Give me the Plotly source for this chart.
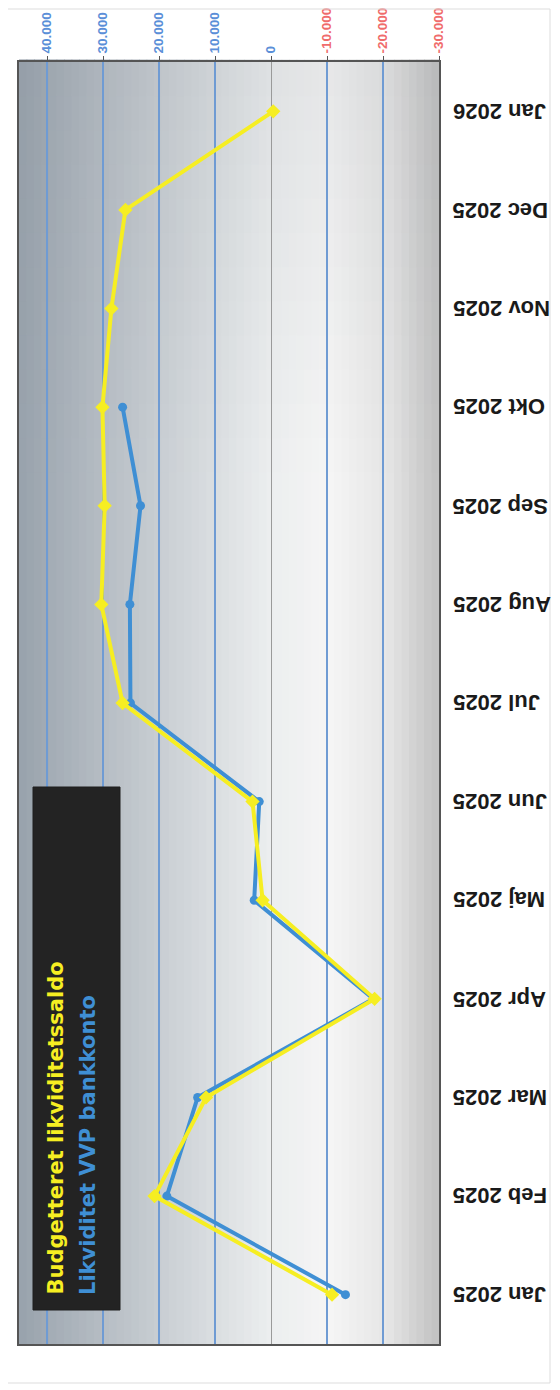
import plotly.graph_objects as go

# ---------------- data ----------------
months = ["Jan 2025", "Feb 2025", "Mar 2025", "Apr 2025", "Maj 2025", "Jun 2025",
          "Jul 2025", "Aug 2025", "Sep 2025", "Okt 2025", "Nov 2025", "Dec 2025", "Jan 2026"]
budget = [-10900, 20800, 11600, -18500, 1500, 3300, 26500, 30300, 29700, 30100, 28500, 26000, -400]
bank_months = ["Jan 2025", "Feb 2025", "Mar 2025", "Apr 2025", "Maj 2025", "Jun 2025",
               "Jul 2025", "Aug 2025", "Sep 2025", "Okt 2025"]
bank = [-13300, 18600, 13100, -18300, 3000, 2100, 25100, 25200, 23300, 26500]
value_ticks = [40000, 30000, 20000, 10000, 0, -10000, -20000, -30000]
value_labels = ["40.000", "30.000", "20.000", "10.000", "0", "-10.000", "-20.000", "-30.000"]
series_names = ["Budgetteret likviditetssaldo", "Likviditet VVP bankkonto"]

YELLOW = "#f6ee22"
BLUE = "#3f8fd4"
POS_COL = "#5b8fd8"
NEG_COL = "#f06c6c"

W, H = 560, 1390
OFF = 8  # page body offset
# plot frame in screen pixels
SX0, SX1, SY0, SY1 = 19, 439, 62, 1344
L = SX0 - OFF
T = SY0 - OFF
R = W - (SX1 - OFF)
B = H - (SY1 - OFF)
PW, PH = W - L - R, H - T - B


def px_x(p):
    return (p - OFF - L) / PW


def px_y(p):
    return (H - B - (p - OFF)) / PH


fig = go.Figure()
fig.add_trace(go.Scatter(
    x=bank, y=bank_months, mode="lines+markers", name=series_names[1],
    line=dict(color=BLUE, width=4), marker=dict(symbol="circle", size=9, color=BLUE),
    showlegend=False))
fig.add_trace(go.Scatter(
    x=budget, y=months, mode="lines+markers", name=series_names[0],
    line=dict(color=YELLOW, width=4), marker=dict(symbol="diamond", size=11, color=YELLOW),
    showlegend=False))

# coloured value tick labels
ticktext = []
for v, t in zip(value_ticks, value_labels):
    c = NEG_COL if v < 0 else POS_COL
    ticktext.append(f'<span style="color:{c}">{t}</span>')

# background gradient (horizontal) with slight darkening towards the top
stops = [(0.0, (152, 162, 172)), (0.2, (182, 189, 196)), (0.45, (216, 220, 223)),
         (0.6, (236, 238, 239)), (0.74, (245, 245, 245)), (0.88, (229, 229, 229)),
         (1.0, (192, 192, 192))]
DARK = (120, 128, 136)


def grad(u):
    for (a, ca), (b, cb) in zip(stops[:-1], stops[1:]):
        if a <= u <= b:
            f = (u - a) / (b - a)
            return tuple(ca[i] + f * (cb[i] - ca[i]) for i in range(3))
    return (192, 192, 192)


def rgb(c):
    return "rgb(%d,%d,%d)" % tuple(round(x) for x in c)


shapes = []
N = 56
TOPZ = 0.68
K = 12
for i in range(N):
    u0, u1 = i / N, (i + 1) / N
    base = grad((u0 + u1) / 2)
    shapes.append(dict(type="rect", xref="x domain", yref="y domain",
                       x0=u0, x1=u1 + 0.002, y0=0, y1=TOPZ + 0.002, layer="below",
                       line=dict(width=0), fillcolor=rgb(base)))
    for k in range(K):
        v0 = TOPZ + (1 - TOPZ) * k / K
        v1 = TOPZ + (1 - TOPZ) * (k + 1) / K
        d = 0.12 * ((k + 0.5) / K)
        col = tuple(base[c] * (1 - d) + DARK[c] * d for c in range(3))
        shapes.append(dict(type="rect", xref="x domain", yref="y domain",
                           x0=u0, x1=u1 + 0.002, y0=v0, y1=v1 + 0.002, layer="below",
                           line=dict(width=0), fillcolor=rgb(col)))

# outer page border
shapes.append(dict(type="rect", xref="paper", yref="paper",
                   x0=px_x(5), x1=px_x(550), y0=px_y(1383), y1=px_y(9),
                   line=dict(color="#dddddd", width=1), fillcolor="rgba(0,0,0,0)"))
# legend box
shapes.append(dict(type="rect", xref="paper", yref="paper",
                   x0=px_x(33), x1=px_x(120), y0=px_y(1310), y1=px_y(787),
                   line=dict(color="#1e1e1e", width=1), fillcolor="#232323"))

annotations = [
    dict(text=series_names[0], xref="paper", yref="paper", x=px_x(55), y=px_y(1297),
         xanchor="center", yanchor="bottom", textangle=-90, showarrow=False,
         font=dict(family="DejaVu Sans", size=21, color=YELLOW, weight="bold")),
    dict(text=series_names[1], xref="paper", yref="paper", x=px_x(88), y=px_y(1297),
         xanchor="center", yanchor="bottom", textangle=-90, showarrow=False,
         font=dict(family="DejaVu Sans", size=21, color=BLUE, weight="bold")),
]
# upside-down category labels
for m in months:
    annotations.append(dict(text=m, xref="paper", yref="y", x=px_x(451), y=m,
                            xanchor="left", yanchor="middle", textangle=180, showarrow=False,
                            font=dict(family="Arial", size=22, color="#1a1a1a", weight="bold")))

fig.update_layout(
    width=W, height=H,
    margin=dict(l=L, r=R, t=T, b=B),
    paper_bgcolor="white", plot_bgcolor="#e0e0e0",
    shapes=shapes, annotations=annotations,
    xaxis=dict(
        side="top", range=[45000, -30000], tickvals=value_ticks, ticktext=ticktext,
        tickangle=-90, tickfont=dict(family="Arial", size=13.5, color=POS_COL, weight="bold"),
        showgrid=True, gridcolor="#6f9bd3", gridwidth=1.5,
        zeroline=True, zerolinecolor="#9a9a9a", zerolinewidth=1,
        ticks="outside", ticklen=4, tickcolor="#555555", automargin=False,
        showline=True, linecolor="#555555", linewidth=1.5, mirror=True),
    yaxis=dict(
        type="category", categoryorder="array", categoryarray=months,
        range=[-0.5, 12.5], showticklabels=False, automargin=False,
        showgrid=False, zeroline=False, ticks="",
        showline=True, linecolor="#555555", linewidth=1.5, mirror=True),
)

fig.write_html("out.html")
